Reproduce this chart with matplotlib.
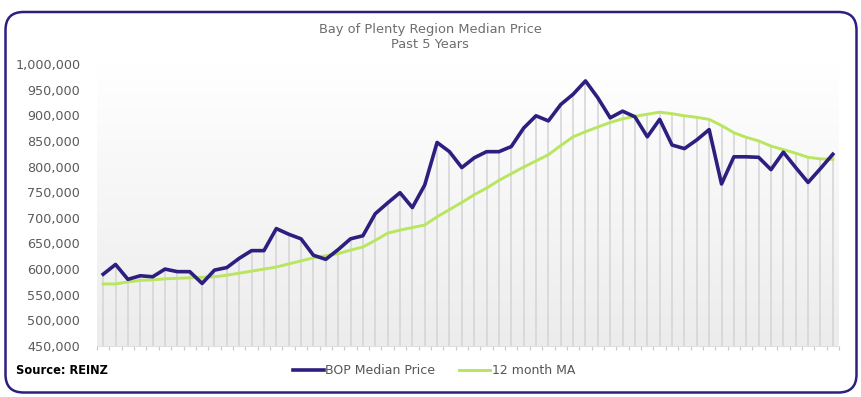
import numpy as np
import matplotlib
matplotlib.use("Agg")
import matplotlib.pyplot as plt
from matplotlib.patches import FancyBboxPatch
from matplotlib.colors import LinearSegmentedColormap
from matplotlib.ticker import FuncFormatter, MultipleLocator

plt.rcParams['font.family'] = ['DejaVu Sans']

# ---- data ----
months = list(range(60))
bop_median = [590, 609, 580, 587, 585, 600, 595, 595, 572, 598,
              603, 621, 636, 636, 679, 668, 659, 627, 619, 638,
              659, 665, 708, 729, 749, 720, 764, 847, 829, 798,
              817, 829, 829, 839, 875, 899, 889, 921, 941, 967,
              934, 895, 908, 897, 858, 892, 842, 835, 852, 872,
              766, 819, 819, 818, 794, 828, 798, 769, 796, 824]
ma_12 = [571, 571, 575, 578, 579, 581, 582, 583, 584, 585,
         588, 592, 596, 600, 604, 610, 616, 622, 626, 630,
         637, 643, 656, 670, 676, 681, 686, 702, 716, 730,
         745, 758, 773, 786, 799, 811, 823, 841, 858, 868,
         877, 886, 893, 898, 902, 906, 903, 899, 896, 892,
         880, 866, 857, 850, 840, 833, 826, 818, 815, 814]
bop_median = [v * 1000 for v in bop_median]
ma_12 = [v * 1000 for v in ma_12]
y_ticks = list(range(450000, 1000001, 50000))

title = "Bay of Plenty Region Median Price\nPast 5 Years"
navy = "#2d1f80"
lime = "#b9e55f"

W, H = 862, 397
fig = plt.figure(figsize=(W / 100, H / 100), dpi=100)

# background frame in pixel coords
bg = fig.add_axes([0, 0, 1, 1])
bg.set_xlim(0, W)
bg.set_ylim(H, 0)
bg.axis("off")
frame = FancyBboxPatch((5.5, 12), 851, 380.5, boxstyle="round,pad=0,rounding_size=18",
                       facecolor="white", edgecolor=navy, linewidth=1.8)
bg.add_patch(frame)
bg.text(430, 37, title, ha="center", va="center", fontsize=9.4, color="#6e6e6e",
        linespacing=1.2)
bg.text(16, 371, "Source: REINZ", ha="left", va="center", fontsize=8.3,
        fontweight="bold", color="black")

# main axes
left, right, top, bottom = 97, 839, 64, 346
ax = fig.add_axes([left / W, 1 - bottom / H, (right - left) / W, (bottom - top) / H])
ax.set_xlim(-0.5, 59.5)
ax.set_ylim(450000, 1000000)
ax.patch.set_alpha(0)

cmap = LinearSegmentedColormap.from_list("g", ["#ececec", "#ffffff"])
grad = np.linspace(0, 1, 256).reshape(-1, 1)
ax.imshow(grad, extent=(-0.5, 59.5, 450000, 1000000), origin="lower",
          aspect="auto", cmap=cmap, zorder=0)

tops = [max(a, b) for a, b in zip(bop_median, ma_12)]
ax.vlines(months, 450000, tops, colors="#d4d4d4", linewidth=1.1, zorder=1)

ax.plot(months, bop_median, color=navy, linewidth=2.6, label="BOP Median Price",
        zorder=3, solid_joinstyle="round")
ax.plot(months, ma_12, color=lime, linewidth=2.1, label="12 month MA", zorder=2)

ax.set_yticks(y_ticks)
ax.yaxis.set_major_formatter(FuncFormatter(lambda v, p: f"{int(v):,}"))
ax.tick_params(axis="y", length=0, pad=12, labelsize=9.2, labelcolor="#5a5a5a")
ax.set_xticks([])
ax.xaxis.set_minor_locator(MultipleLocator(1, offset=0.5))
ax.tick_params(axis="x", which="minor", length=3, color="#c8c8c8", width=0.8)
for s in ["left", "right", "top"]:
    ax.spines[s].set_visible(False)
ax.spines["bottom"].set_color("#e0e0e0")

leg = ax.legend(loc="center", bbox_to_anchor=(434 / W, 1 - 371 / H),
                bbox_transform=fig.transFigure, ncol=2, frameon=False,
                handlelength=2.5, handletextpad=0.1, columnspacing=1.9,
                fontsize=9.0)
for t in leg.get_texts():
    t.set_color("#555555")

fig.savefig("out.png", dpi=100)
